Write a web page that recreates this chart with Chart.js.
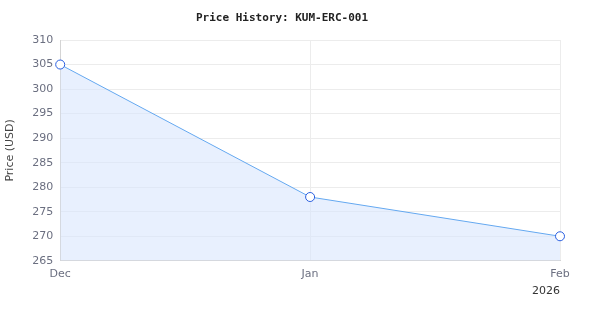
<!DOCTYPE html>
<html>
<head>
<meta charset="utf-8">
<script src="https://cdn.jsdelivr.net/npm/chart.js@4"></script>
<style>
html,body{margin:0;padding:0;background:#fff;}
#wrap{width:600px;height:320px;position:relative;}
</style>
</head>
<body>
<div id="wrap"><canvas id="c"></canvas></div>
<script>
const categories = ['Dec', 'Jan', 'Feb'];
const prices = [305, 278, 270];
const yearLabel = '2026';
const chartTitle = 'Price History: KUM-ERC-001';
const yAxisTitle = 'Price (USD)';

new Chart(document.getElementById('c'), {
  type: 'line',
  data: {
    labels: categories,
    datasets: [{
      data: prices,
      borderColor: '#64a8f0',
      borderWidth: 1,
      backgroundColor: 'rgba(216,230,253,0.6)',
      fill: 'origin',
      tension: 0,
      pointRadius: 4.5,
      pointHoverRadius: 4.5,
      pointBackgroundColor: '#ffffff',
      pointBorderColor: '#2a5fe0',
      pointBorderWidth: 1
    }]
  },
  options: {
    responsive: true,
    maintainAspectRatio: false,
    animation: false,
    layout: { padding: { left: 4, right: 40, top: 4, bottom: 22 } },
    plugins: {
      legend: { display: false },
      tooltip: { enabled: false },
      title: {
        display: true,
        text: chartTitle,
        color: '#222',
        font: { family: 'DejaVu Sans Mono', size: 11, weight: 'bold' },
        padding: { top: 7.4, bottom: 15.4 }
      }
    },
    scales: {
      x: {
        offset: false,
        grid: { color: '#ececec', drawTicks: false },
        border: { color: '#d4d4d4' },
        ticks: { color: '#6b6f80', font: { family: 'DejaVu Sans', size: 11, lineHeight: 1 }, padding: 8, maxRotation: 0 },
        title: {
          display: true, text: yearLabel, align: 'end', color: '#333',
          font: { family: 'DejaVu Sans', size: 11, weight: 'normal' }, padding: { top: -3, bottom: 0 }
        }
      },
      y: {
        min: 265, max: 310,
        grid: { color: '#ececec', drawTicks: false },
        border: { color: '#d4d4d4' },
        ticks: { stepSize: 5, color: '#6b6f80', font: { family: 'DejaVu Sans', size: 11 }, padding: 7 },
        title: {
          display: true, text: yAxisTitle, color: '#444',
          font: { family: 'DejaVu Sans', size: 11 }, padding: { top: 0, bottom: 8 }
        }
      }
    }
  }
});
</script>
</body>
</html>
